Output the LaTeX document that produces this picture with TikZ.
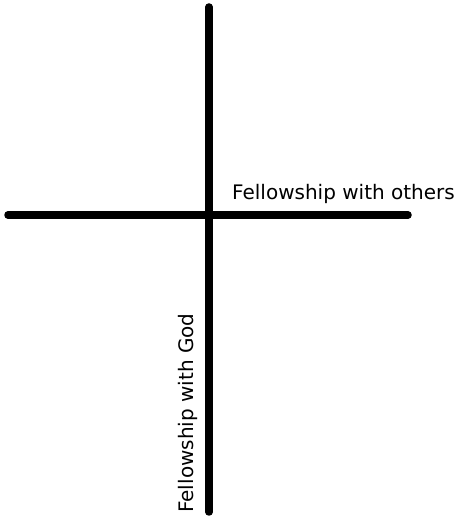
\documentclass[tikz,border=0pt]{standalone}
\usepackage{fontspec}
\setmainfont{DejaVu Sans}
\usetikzlibrary{positioning}
\tikzset{
  beam/.style={line width=7.5pt, line cap=round, draw=black},
  lbl/.style={inner sep=0pt, font=\fontsize{20}{24}\selectfont},
}
\begin{document}
\begin{tikzpicture}[x=1pt, y=1pt]
    \useasboundingbox (0,0) rectangle (459,518);
    % cross ends
    \coordinate (top) at (209,511);
    \coordinate (bot) at (209,6);
    \coordinate (lft) at (8,303);
    \coordinate (rgt) at (408,303);
    \draw[beam] (top) -- (bot);
    \draw[beam] (lft) -- (rgt);
    % labels
    \node[lbl, anchor=base west] (others) at (232,318) {Fellowship with others};
    \node[lbl, anchor=base west, rotate=90] (god) at (193,5) {Fellowship with God};
  \end{tikzpicture}
\end{document}
